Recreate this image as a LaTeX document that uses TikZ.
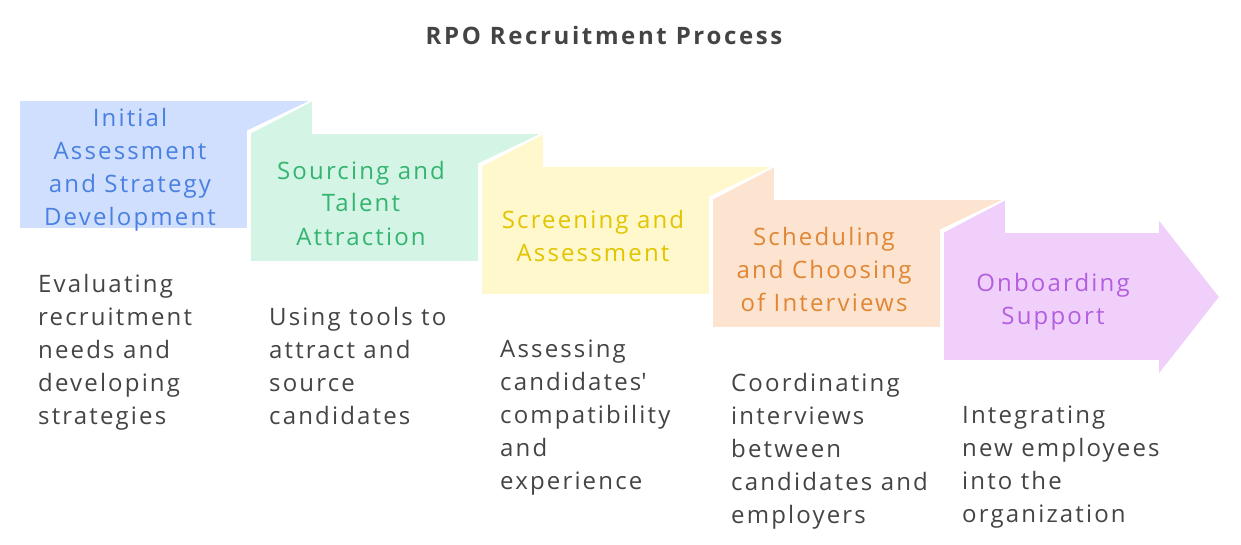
\documentclass[tikz,border=0pt]{standalone}
\usepackage{fontspec}
\setmainfont{Open Sans}[LetterSpace=9]
\newfontfamily\titlefont{Open Sans}[LetterSpace=11]
\usepackage{xcolor}
\usepackage{tikz}
\usetikzlibrary{positioning}
\definecolor{stepblue}{RGB}{207,223,253}
\definecolor{stepgreen}{RGB}{212,245,229}
\definecolor{stepyellow}{RGB}{254,248,204}
\definecolor{steporange}{RGB}{252,228,208}
\definecolor{steppurple}{RGB}{240,208,251}
\definecolor{textblue}{RGB}{74,128,226}
\definecolor{textgreen}{RGB}{52,180,112}
\definecolor{textyellow}{RGB}{226,196,0}
\definecolor{textorange}{RGB}{224,134,52}
\definecolor{textpurple}{RGB}{178,94,222}
\definecolor{textgray}{RGB}{68,68,68}
\tikzstyle{panel} = [draw=white, line width=1.6pt, line join=miter]
\tikzstyle{label} = [align=center, inner sep=0pt,
    font=\fontsize{24}{33}\selectfont]
\tikzstyle{desc} = [align=left, anchor=north west, inner sep=0pt,
    text=textgray, font=\fontsize{24}{33}\selectfont]

\begin{document}
\begin{tikzpicture}[x=1pt, y=-1pt]
\useasboundingbox (0,0) rectangle (1241,545);
% Title
\node[font=\titlefont\fontsize{24}{28}\selectfont\bfseries, text=textgray] (title) at (604,36) {RPO Recruitment Process};
% Steps
\filldraw[panel, fill=stepblue] (19,229) -- (19,100) -- (313,100) -- (248,131) -- (248,229) -- cycle;
\filldraw[panel, fill=stepgreen] (250,262) -- (250,133) -- (313,100) -- (313,133) -- (544,133) -- (479,164) -- (479,262) -- cycle;
\filldraw[panel, fill=stepyellow] (481,295) -- (481,166) -- (544,133) -- (544,166) -- (775,166) -- (710,197) -- (710,295) -- cycle;
\filldraw[panel, fill=steporange] (712,328) -- (712,199) -- (775,166) -- (775,199) -- (1006,199) -- (941,230) -- (941,328) -- cycle;
\filldraw[panel, fill=steppurple] (943,361) -- (943,232) -- (1006,199) -- (1006,232) -- (1158,232) -- (1158,218) -- (1220,297) -- (1158,376) -- (1158,361) -- cycle;
% Step labels
\node[label, text=textblue] (assess) at (130,170) {Initial\\Assessment\\and Strategy\\Development};
\node[label, text=textgreen] (source) at (361,203) {Sourcing and\\Talent\\Attraction};
\node[label, text=textyellow] (screen) at (593,236) {Screening and\\Assessment};
\node[label, text=textorange] (sched) at (824,269) {Scheduling\\and Choosing\\of Interviews};
\node[label, text=textpurple] (onboard) at (1053,302) {Onboarding\\Support};
% Descriptions
\node[desc] (assessdesc) at (38,274) {Evaluating\\recruitment\\needs and\\developing\\strategies};
\node[desc] (sourcedesc) at (269,307) {Using tools to\\attract and\\source\\candidates};
\node[desc] (screendesc) at (500,340) {Assessing\\candidates\textquotesingle\\compatibility\\and\\experience};
\node[desc] (scheddesc) at (731,373) {Coordinating\\interviews\\between\\candidates and\\employers};
\node[desc] (onboarddesc) at (962,406) {Integrating\\new employees\\into the\\organization};
\end{tikzpicture}
\end{document}
